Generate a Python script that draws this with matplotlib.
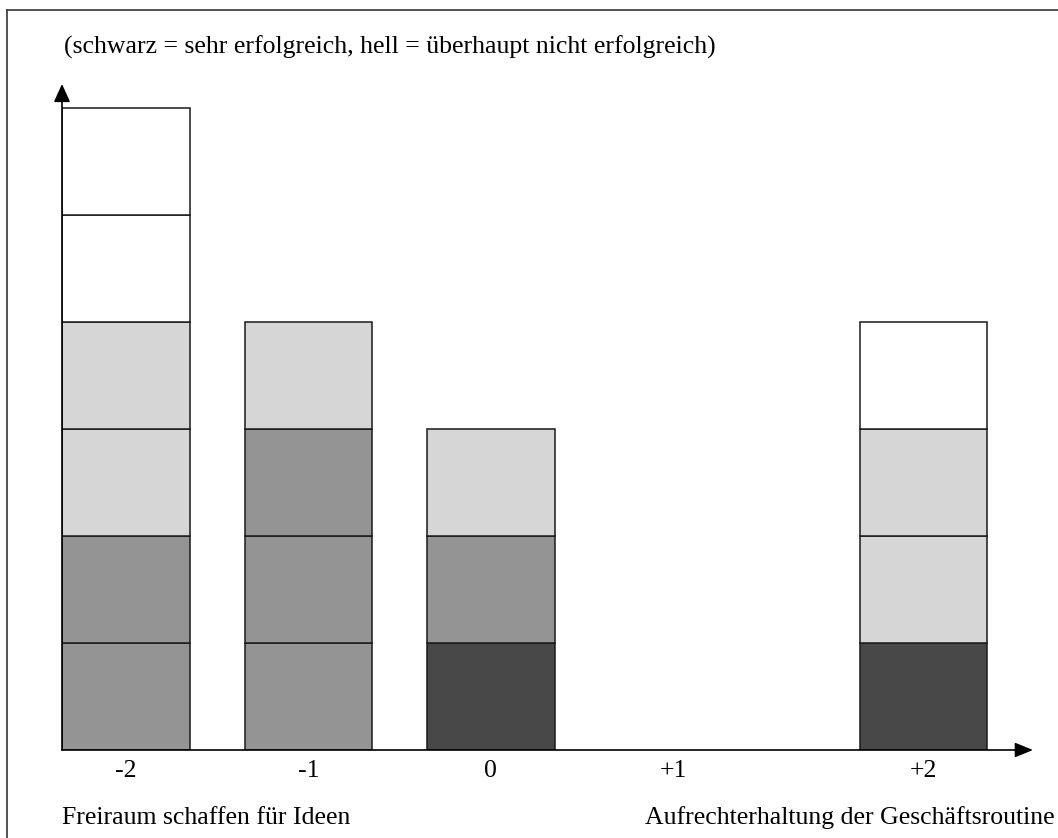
import matplotlib.pyplot as plt
from matplotlib.lines import Line2D

plt.rcParams['font.family'] = ['Liberation Serif', 'DejaVu Serif']

# Skala von "Freiraum schaffen" (-2) bis "Geschäftsroutine" (+2)
labels = ['-2', '-1', '0', '+1', '+2']
xpos = [0, 1, 2, 3, 4.37]
# Anzahl Nennungen je Erfolgsstufe (schwarz ... hell)
sehr = [0, 0, 1, 0, 1]
eher = [2, 3, 1, 0, 0]
wenig = [2, 1, 1, 0, 2]
gar_nicht = [2, 0, 0, 0, 1]

stufen = [sehr, eher, wenig, gar_nicht]
farben = ['#484848', '#949494', '#d6d6d6', '#ffffff']

fig = plt.figure(figsize=(10.58, 8.38), dpi=100)
ax = fig.add_axes([62/1058, 88/838, (1033-62)/1058, (750-84)/838])

for i in range(len(labels)):
    h = 0
    for s in range(len(stufen)):
        for k in range(stufen[s][i]):
            ax.bar(xpos[i], 1, bottom=h, width=0.70, color=farben[s],
                   edgecolor='#1a1a1a', linewidth=1.1)
            h += 1

ax.set_xlim(-0.35, -0.35 + (1033-62)/182.5)
ax.set_ylim(0, (750-84)/107)
for sp in ax.spines.values():
    sp.set_visible(False)
ax.set_xticks([])
ax.set_yticks([])

# Achsen mit Pfeilspitzen
ax.annotate('', xy=(1.0, 0), xytext=(0, 0), xycoords='axes fraction',
            arrowprops=dict(arrowstyle='-|>,head_length=1.1,head_width=0.45',
                            color='black', lw=1.2, shrinkA=0, shrinkB=0))
ax.annotate('', xy=(0, 1.0), xytext=(0, 0), xycoords='axes fraction',
            arrowprops=dict(arrowstyle='-|>,head_length=1.1,head_width=0.5',
                            color='black', lw=1.2, shrinkA=0, shrinkB=0))

for i in range(len(labels)):
    ax.text(xpos[i], -0.2, labels[i], ha='center', va='center', fontsize=18.5)

fig.text(64/1058, 1-47/838, '(schwarz = sehr erfolgreich, hell = überhaupt nicht erfolgreich)',
         ha='left', va='center', fontsize=18.5)
fig.text(62/1058, 1-818/838, 'Freiraum schaffen für Ideen', ha='left', va='center', fontsize=18.5)
fig.text(1055/1058, 1-818/838, 'Aufrechterhaltung der Geschäftsroutine', ha='right', va='center',
         fontsize=18.5)

# Rahmen (nur links und oben sichtbar)
fig.add_artist(Line2D([7/1058, 7/1058], [0, 1-10/838], transform=fig.transFigure,
                      color='#444444', lw=1.3))
fig.add_artist(Line2D([7/1058, 1], [1-10/838, 1-10/838], transform=fig.transFigure,
                      color='#444444', lw=1.3))

fig.savefig('out.png', dpi=100)
